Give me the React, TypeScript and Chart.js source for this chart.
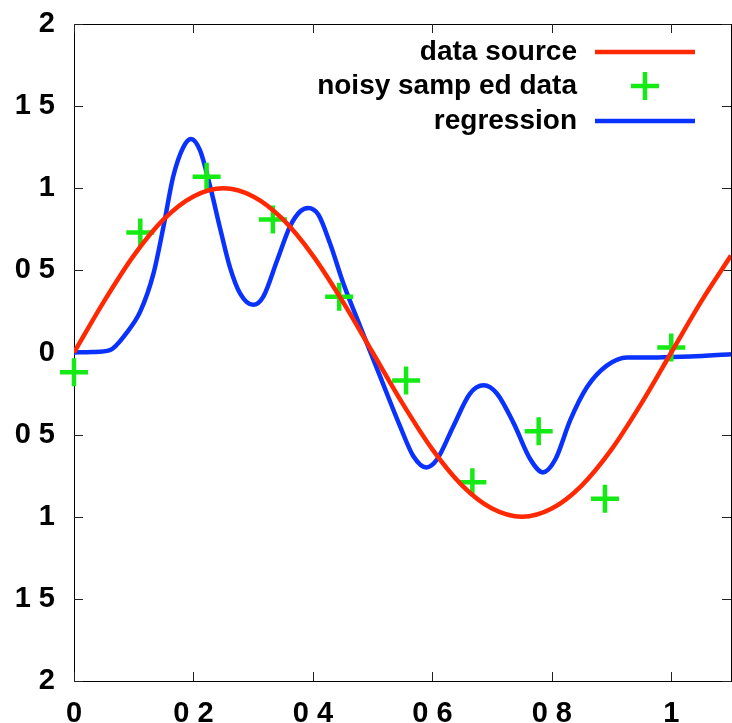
import React, { useEffect, useRef } from "react";
import { Chart, registerables } from "chart.js";

Chart.register(...registerables);

// ---- data ----
const seriesLabels = ["data source", "noisy samp ed data", "regression"];

const sourceX = [0, 0.05, 0.1, 0.15, 0.2, 0.25, 0.3, 0.35, 0.4, 0.45, 0.5, 0.55, 0.6, 0.65, 0.7, 0.75, 0.8, 0.85, 0.9, 0.95, 1.0, 1.05, 1.1];
const sourceY = [0, 0.31, 0.59, 0.81, 0.95, 1.0, 0.95, 0.81, 0.59, 0.31, 0, -0.31, -0.59, -0.81, -0.95, -1.0, -0.95, -0.81, -0.59, -0.31, 0, 0.31, 0.59];

const sampleX = [0, 0.111, 0.222, 0.333, 0.444, 0.556, 0.667, 0.778, 0.889, 1.0];
const sampleY = [-0.12, 0.73, 1.07, 0.81, 0.34, -0.17, -0.79, -0.48, -0.89, 0.03];

const regX = [0, 0.03, 0.06, 0.088, 0.111, 0.133, 0.15, 0.166, 0.183, 0.196, 0.211, 0.228, 0.245, 0.261, 0.278, 0.3, 0.317, 0.34, 0.362, 0.379, 0.392, 0.409, 0.429, 0.451, 0.479, 0.513, 0.546, 0.568, 0.59, 0.608, 0.635, 0.663, 0.686, 0.708, 0.736, 0.764, 0.785, 0.806, 0.831, 0.859, 0.892, 0.926, 0.976, 1.032, 1.1];
const regY = [0, 0.003, 0.015, 0.12, 0.25, 0.48, 0.77, 1.07, 1.25, 1.3, 1.23, 1.01, 0.75, 0.52, 0.36, 0.29, 0.34, 0.56, 0.77, 0.86, 0.88, 0.84, 0.66, 0.42, 0.16, -0.15, -0.45, -0.63, -0.7, -0.65, -0.45, -0.25, -0.2, -0.25, -0.43, -0.65, -0.73, -0.65, -0.41, -0.21, -0.08, -0.03, -0.03, -0.025, -0.01];

const xTicks = [0, 0.2, 0.4, 0.6, 0.8, 1];
const xTickLabels = ["0", "0 2", "0 4", "0 6", "0 8", "1"];
const yTicks = [-2, -1.5, -1, -0.5, 0, 0.5, 1, 1.5, 2];
const yTickLabels = ["2", "1 5", "1", "0 5", "0", "0 5", "1", "1 5", "2"];

const RED = "rgb(255,40,0)";
const GREEN = "rgb(20,235,20)";
const BLUE = "rgb(10,50,255)";
const FONT = "'Liberation Sans', Arial, sans-serif";

const toPts = (xs: number[], ys: number[]) => xs.map((x, i) => ({ x, y: ys[i] }));

const zeroPad = (s: any) => {
  s.paddingLeft = 0;
  s.paddingRight = 0;
  s.paddingTop = 0;
  s.paddingBottom = 0;
};

const framePlugin = {
  id: "frame",
  beforeDatasetsDraw(chart: any) {
    const { ctx, chartArea: a, scales } = chart;
    ctx.save();
    ctx.strokeStyle = "#000";
    ctx.lineWidth = 1;
    ctx.strokeRect(a.left + 0.5, a.top + 0.5, a.right - a.left, a.bottom - a.top);
    const tl = 9;
    ctx.strokeStyle = "#222";
    ctx.beginPath();
    for (const v of xTicks) {
      const px = Math.round(scales.x.getPixelForValue(v)) + 0.5;
      ctx.moveTo(px, a.bottom);
      ctx.lineTo(px, a.bottom - tl);
      ctx.moveTo(px, a.top);
      ctx.lineTo(px, a.top + tl);
    }
    for (const v of yTicks) {
      const py = Math.round(scales.y.getPixelForValue(v)) + 0.5;
      ctx.moveTo(a.left, py);
      ctx.lineTo(a.left + tl, py);
      ctx.moveTo(a.right, py);
      ctx.lineTo(a.right - tl, py);
    }
    ctx.stroke();
    ctx.restore();
  },
};

const legendPlugin = {
  id: "customLegend",
  afterDraw(chart: any) {
    const { ctx, chartArea: a } = chart;
    const textRight = a.right - 154;
    const lineStart = a.right - 136;
    const lineEnd = a.right - 36;
    const rows = [a.top + 28, a.top + 62, a.top + 97];
    ctx.save();
    ctx.font = `bold 28px ${FONT}`;
    ctx.textAlign = "right";
    ctx.textBaseline = "middle";
    chart.data.datasets.forEach((ds: any, i: number) => {
      const y = rows[i];
      ctx.fillStyle = "#000";
      ctx.fillText(ds.label, textRight, y);
      ctx.strokeStyle = ds.borderColor;
      if (ds.showLine === false) {
        const cx = (lineStart + lineEnd) / 2;
        const r = 14;
        ctx.lineWidth = 4.5;
        ctx.beginPath();
        ctx.moveTo(cx - r, y);
        ctx.lineTo(cx + r, y);
        ctx.moveTo(cx, y - r);
        ctx.lineTo(cx, y + r);
        ctx.stroke();
      } else {
        ctx.lineWidth = ds.borderWidth;
        ctx.beginPath();
        ctx.moveTo(lineStart, y);
        ctx.lineTo(lineEnd, y);
        ctx.stroke();
      }
    });
    ctx.restore();
  },
};

export default function App() {
  const ref = useRef<HTMLCanvasElement | null>(null);

  useEffect(() => {
    if (!ref.current) return;
    const chart = new Chart(ref.current, {
      type: "line",
      data: {
        datasets: [
          {
            label: seriesLabels[0],
            data: toPts(sourceX, sourceY),
            borderColor: RED,
            borderWidth: 4.5,
            pointRadius: 0,
            cubicInterpolationMode: "monotone",
            fill: false,
          },
          {
            label: seriesLabels[1],
            data: toPts(sampleX, sampleY),
            borderColor: GREEN,
            backgroundColor: GREEN,
            showLine: false,
            pointStyle: "cross",
            pointRadius: 14,
            pointBorderWidth: 4.5,
            pointBorderColor: GREEN,
            clip: false,
          },
          {
            label: seriesLabels[2],
            data: toPts(regX, regY),
            borderColor: BLUE,
            borderWidth: 4.5,
            pointRadius: 0,
            cubicInterpolationMode: "monotone",
            fill: false,
          },
        ],
      } as any,
      options: {
        responsive: false,
        maintainAspectRatio: false,
        animation: false,
        layout: { autoPadding: false, padding: { top: 24, right: 1, left: 0, bottom: 0 } },
        plugins: { legend: { display: false }, tooltip: { enabled: false } },
        scales: {
          x: {
            type: "linear",
            min: 0,
            max: 1.1,
            grid: { display: false, drawTicks: false },
            border: { display: false },
            afterBuildTicks: (s: any) => {
              s.ticks = xTicks.map((v) => ({ value: v }));
            },
            afterFit: (s: any) => {
              s.height = 42;
              zeroPad(s);
            },
            ticks: {
              autoSkip: false,
              maxRotation: 0,
              padding: 16,
              color: "#000",
              font: { family: FONT, size: 29, weight: "bold" },
              callback: (v: any) => {
                const i = xTicks.findIndex((t) => Math.abs(t - v) < 1e-9);
                return i >= 0 ? xTickLabels[i] : "";
              },
            },
          },
          y: {
            type: "linear",
            min: -2,
            max: 2,
            grid: { display: false, drawTicks: false },
            border: { display: false },
            afterBuildTicks: (s: any) => {
              s.ticks = yTicks.map((v) => ({ value: v }));
            },
            afterFit: (s: any) => {
              s.width = 74;
              zeroPad(s);
            },
            ticks: {
              autoSkip: false,
              padding: 19,
              color: "#000",
              font: { family: FONT, size: 29, weight: "bold" },
              callback: (v: any) => {
                const i = yTicks.findIndex((t) => Math.abs(t - v) < 1e-9);
                return i >= 0 ? yTickLabels[i] : "";
              },
            },
          },
        },
      } as any,
      plugins: [framePlugin, legendPlugin],
    });
    return () => chart.destroy();
  }, []);

  return (
    <div style={{ position: "absolute", left: 0, top: 0, width: 732, height: 723, background: "#fff" }}>
      <canvas ref={ref} width={732} height={723} style={{ display: "block", width: 732, height: 723 }} />
    </div>
  );
}
